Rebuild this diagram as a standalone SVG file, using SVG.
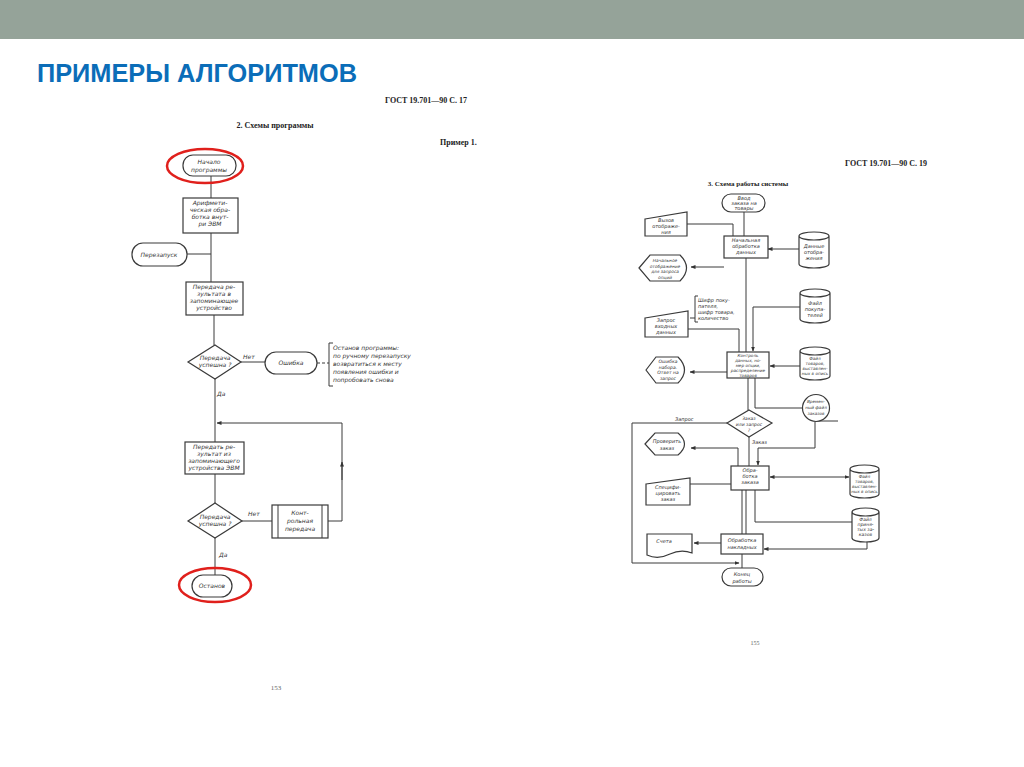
<svg xmlns="http://www.w3.org/2000/svg" width="1024" height="767" viewBox="0 0 1024 767">
<style>
.s{fill:none;stroke:#3a3a3a;stroke-width:1}
.b{fill:#fff;stroke:#3a3a3a;stroke-width:1.2}
.t{font-family:"DejaVu Sans",sans-serif;font-style:italic;font-size:6px;fill:#333;text-anchor:middle}
.tl{font-family:"DejaVu Sans",sans-serif;font-style:italic;font-size:6px;fill:#333}
.h{font-family:"Liberation Serif",serif;font-weight:bold;font-size:8px;fill:#222}
.pg{font-family:"Liberation Serif",serif;font-size:7px;fill:#666;text-anchor:middle}
.red{fill:none;stroke:#e0201c;stroke-width:2.5}
</style>
<defs>
<marker id="ar" viewBox="0 0 10 10" refX="9" refY="5" markerWidth="5" markerHeight="5" orient="auto-start-reverse"><path d="M0,1 L10,5 L0,9 Z" fill="#333"/></marker>
</defs>
<rect x="0" y="0" width="1024" height="39" fill="#95a399"/>
<text x="37" y="82" font-family="Liberation Sans,Arial,sans-serif" font-weight="bold" font-size="26" fill="#0b6db8" textLength="320" lengthAdjust="spacingAndGlyphs">ПРИМЕРЫ АЛГОРИТМОВ</text>

<!-- left page headers -->
<text class="h" x="385" y="103">ГОСТ 19.701—90 С. 17</text>
<text class="h" x="275" y="128" text-anchor="middle">2. Схемы программы</text>
<text class="h" x="440" y="145">Пример 1.</text>
<text class="pg" x="276" y="690">153</text>

<!-- right page headers -->
<text class="h" x="845" y="166">ГОСТ 19.701—90 С. 19</text>
<text class="h" x="748" y="186" text-anchor="middle" style="font-size:7px">3. Схема работы системы</text>
<text class="pg" x="755" y="645" style="font-size:6px">155</text>

<g id="connectors">
<!-- left -->
<path class="s" d="M211,176 V198"/>
<path class="s" d="M211,233 V282"/>
<path class="s" d="M187,254 H211"/>
<path class="s" d="M214,315 V345"/>
<path class="s" d="M241,362 H265"/>
<path class="s" d="M317,363 H329" stroke-dasharray="3,2"/>
<path class="s" d="M215,379 V442"/>
<path class="s" d="M342,423 H217" marker-end="url(#ar)"/>
<path class="s" d="M328,521 H342 V423"/>
<path class="s" d="M342,480 V462" marker-end="url(#ar)"/>
<path class="s" d="M215,474 V503"/>
<path class="s" d="M242,521 H272"/>
<path class="s" d="M215,538 V575"/>
<!-- right -->
<path class="s" d="M744,212 V236"/>
<path class="s" d="M687,224 H733 V236"/>
<path class="s" d="M799,249 H768" marker-end="url(#ar)"/>
<path class="s" d="M724,267 H691" marker-end="url(#ar)"/>
<path class="s" d="M746,258 V352"/>
<path class="s" d="M688,329 H739 V352"/>
<path class="s" d="M690,318 H695"/>
<path class="s" d="M800,307 H753 V351" marker-end="url(#ar)"/>
<path class="s" d="M800,366 H770" marker-end="url(#ar)"/>
<path class="s" d="M727,372 H690" marker-end="url(#ar)"/>
<path class="s" d="M748,378 V410"/>
<path class="s" d="M755,378 V408 H803"/>
<path class="s" d="M727,423 H632 V563 H739" marker-end="url(#ar)"/>
<path class="s" d="M749,437 V466"/>
<path class="s" d="M815,422 V448 H758 V465" marker-end="url(#ar)"/>
<path class="s" d="M816,421 H838"/>
<path class="s" d="M738,466 V448 H691" marker-end="url(#ar)"/>
<path class="s" d="M690,484 H731"/>
<path class="s" d="M770,477 H849" marker-start="url(#ar)" marker-end="url(#ar)"/>
<path class="s" d="M755,490 V522 H852"/>
<path class="s" d="M742,490 V534"/>
<path class="s" d="M746,490 V534"/>
<path class="s" d="M721,543 H694" marker-end="url(#ar)"/>
<path class="s" d="M867,542 V549 H764" marker-end="url(#ar)"/>
<path class="s" d="M742,554 V568"/>
</g>

<!-- LEFT CHART NODES -->
<g id="start">
<rect class="b" x="183" y="155" width="53" height="21" rx="10"/>
<text class="t" x="209" y="164">Начало</text>
<text class="t" x="209" y="172">программы</text>
<ellipse class="red" cx="205" cy="166" rx="38" ry="17"/>
</g>
<g id="arith">
<rect class="b" x="183" y="198" width="55" height="35"/>
<text class="t" x="210" y="205">Арифмети-</text>
<text class="t" x="210" y="212">ческая обра-</text>
<text class="t" x="210" y="219">ботка внут-</text>
<text class="t" x="210" y="226">ри ЭВМ</text>
</g>
<g id="restart">
<rect class="b" x="132" y="243" width="55" height="23" rx="11"/>
<text class="t" x="159" y="257">Перезапуск</text>
</g>
<g id="transfer1">
<rect class="b" x="186" y="282" width="57" height="33"/>
<text class="t" x="214" y="289">Передача ре-</text>
<text class="t" x="214" y="296">зультата в</text>
<text class="t" x="214" y="303">запоминающее</text>
<text class="t" x="214" y="310">устройство</text>
</g>
<g id="dec1">
<polygon class="b" points="215,345 241,362 215,379 188,362"/>
<text class="t" x="215" y="360">Передача</text>
<text class="t" x="215" y="367">успешна ?</text>
<text class="tl" x="243" y="359">Нет</text>
<text class="tl" x="217" y="396">Да</text>
</g>
<g id="error">
<rect class="b" x="265" y="352" width="52" height="22" rx="11"/>
<text class="t" x="291" y="365">Ошибка</text>
</g>
<g id="note1">
<path class="s" d="M333,343 H329 V386 H333"/>
<text class="tl" x="333" y="350">Останов программы:</text>
<text class="tl" x="333" y="358">по ручному перезапуску</text>
<text class="tl" x="333" y="366">возвратиться к месту</text>
<text class="tl" x="333" y="374">появления ошибки и</text>
<text class="tl" x="333" y="382">попробовать снова</text>
</g>
<g id="transfer2">
<rect class="b" x="185" y="442" width="59" height="32"/>
<text class="t" x="214" y="449">Передать ре-</text>
<text class="t" x="214" y="456">зультат из</text>
<text class="t" x="214" y="463">запоминающего</text>
<text class="t" x="214" y="470">устройства ЭВМ</text>
</g>
<g id="dec2">
<polygon class="b" points="215,503 242,521 215,538 188,521"/>
<text class="t" x="215" y="519">Передача</text>
<text class="t" x="215" y="526">успешна ?</text>
<text class="tl" x="248" y="516">Нет</text>
<text class="tl" x="219" y="557">Да</text>
</g>
<g id="control">
<rect class="b" x="272" y="505" width="56" height="33"/>
<path class="s" d="M278,505 V538 M322,505 V538"/>
<text class="t" x="300" y="515">Конт-</text>
<text class="t" x="300" y="523">рольная</text>
<text class="t" x="300" y="531">передача</text>
</g>
<g id="stop">
<rect class="b" x="192" y="575" width="40" height="22" rx="11"/>
<text class="t" x="212" y="588">Останов</text>
<ellipse class="red" cx="215" cy="585" rx="36" ry="17"/>
</g>

<!-- RIGHT CHART NODES -->
<g id="r-start">
<rect class="b" x="722" y="194" width="43" height="18" rx="9"/>
<text class="t" x="744" y="200" style="font-size:5px">Ввод</text>
<text class="t" x="744" y="205" style="font-size:5px">заказа на</text>
<text class="t" x="744" y="210" style="font-size:5px">товары</text>
</g>
<g id="r-call">
<polygon class="b" points="645,219 687,212 687,236 645,236"/>
<text class="t" x="666" y="222" style="font-size:5px">Вызов</text>
<text class="t" x="666" y="228" style="font-size:5px">отображе-</text>
<text class="t" x="666" y="234" style="font-size:5px">ния</text>
</g>
<g id="r-init">
<rect class="b" x="724" y="236" width="44" height="22"/>
<text class="t" x="746" y="242" style="font-size:5px">Начальная</text>
<text class="t" x="746" y="248" style="font-size:5px">обработка</text>
<text class="t" x="746" y="254" style="font-size:5px">данных</text>
</g>
<g id="r-dispdata">
<path class="b" d="M799,236 V264 A15,4 0 0 0 829,264 V236 A15,4 0 0 0 799,236 A15,4 0 0 0 829,236"/>
<text class="t" x="814" y="248" style="font-size:5px">Данные</text>
<text class="t" x="814" y="254" style="font-size:5px">отобра-</text>
<text class="t" x="814" y="260" style="font-size:5px">жения</text>
</g>
<g id="r-initdisp">
<path class="b" d="M639,268 L650,255 L680,255 Q693,268 680,281 L650,281 Z"/>
<text class="t" x="665" y="262" style="font-size:4.3px">Начальное</text>
<text class="t" x="665" y="267.5" style="font-size:4.3px">отображение</text>
<text class="t" x="665" y="273" style="font-size:4.3px">для запроса</text>
<text class="t" x="665" y="278.5" style="font-size:4.3px">опций</text>
</g>
<g id="r-note">
<path class="s" d="M698,296 H695 V322 H698"/>
<text class="tl" x="698" y="302" style="font-size:5px">Шифр поку-</text>
<text class="tl" x="698" y="308" style="font-size:5px">пателя,</text>
<text class="tl" x="698" y="314" style="font-size:5px">шифр товара,</text>
<text class="tl" x="698" y="320" style="font-size:5px">количество</text>
</g>
<g id="r-input">
<polygon class="b" points="645,318 688,311 688,337 645,337"/>
<text class="t" x="666" y="322" style="font-size:5px">Запрос</text>
<text class="t" x="666" y="328" style="font-size:5px">входных</text>
<text class="t" x="666" y="334" style="font-size:5px">данных</text>
</g>
<g id="r-custfile">
<path class="b" d="M800,293 V319 A15,4 0 0 0 830,319 V293 A15,4 0 0 0 800,293 A15,4 0 0 0 830,293"/>
<text class="t" x="815" y="305" style="font-size:5px">Файл</text>
<text class="t" x="815" y="311" style="font-size:5px">покупа-</text>
<text class="t" x="815" y="317" style="font-size:5px">телей</text>
</g>
<g id="r-control">
<rect class="b" x="727" y="352" width="42" height="26"/>
<text class="t" x="748" y="357" style="font-size:4.2px">Контроль</text>
<text class="t" x="748" y="362" style="font-size:4.2px">данных, но-</text>
<text class="t" x="748" y="367" style="font-size:4.2px">мер опции,</text>
<text class="t" x="748" y="372" style="font-size:4.2px">распределение</text>
<text class="t" x="748" y="377" style="font-size:4.2px">товаров</text>
</g>
<g id="r-goodsfile1">
<path class="b" d="M800,351 V376 A15,4 0 0 0 830,376 V351 A15,4 0 0 0 800,351 A15,4 0 0 0 830,351"/>
<text class="t" x="815" y="360" style="font-size:4.2px">Файл</text>
<text class="t" x="815" y="365" style="font-size:4.2px">товаров,</text>
<text class="t" x="815" y="370" style="font-size:4.2px">выставлен-</text>
<text class="t" x="815" y="375" style="font-size:4.2px">ных в опись</text>
</g>
<g id="r-errdisp">
<path class="b" d="M646,370 L656,357 L678,357 Q691,370 678,383 L656,383 Z"/>
<text class="t" x="668" y="363" style="font-size:4.5px">Ошибка</text>
<text class="t" x="668" y="368.5" style="font-size:4.5px">набора.</text>
<text class="t" x="668" y="374" style="font-size:4.5px">Ответ на</text>
<text class="t" x="668" y="379.5" style="font-size:4.5px">запрос</text>
</g>
<g id="r-tempfile">
<circle class="b" cx="816" cy="408" r="13.5"/>
<text class="t" x="816" y="403" style="font-size:4.2px">Времен-</text>
<text class="t" x="816" y="409" style="font-size:4.2px">ный файл</text>
<text class="t" x="816" y="415" style="font-size:4.2px">заказов</text>
</g>
<g id="r-decision">
<polygon class="b" points="749,410 772,423 749,437 727,423"/>
<text class="t" x="749" y="420" style="font-size:4.5px">Заказ</text>
<text class="t" x="749" y="426" style="font-size:4.5px">или запрос</text>
<text class="t" x="749" y="432" style="font-size:4.5px">?</text>
<text class="tl" x="675" y="421" style="font-size:5px">Запрос</text>
<text class="tl" x="752" y="444" style="font-size:5px">Заказ</text>
</g>
<g id="r-check">
<path class="b" d="M645,444 L655,433 L678,433 Q691,444 678,455 L655,455 Z"/>
<text class="t" x="667" y="443" style="font-size:5px">Проверить</text>
<text class="t" x="667" y="450" style="font-size:5px">заказ</text>
</g>
<g id="r-order">
<rect class="b" x="731" y="466" width="38" height="24"/>
<text class="t" x="750" y="472" style="font-size:5px">Обра-</text>
<text class="t" x="750" y="478" style="font-size:5px">ботка</text>
<text class="t" x="750" y="484" style="font-size:5px">заказа</text>
</g>
<g id="r-spec">
<polygon class="b" points="646,484 690,478 690,505 646,505"/>
<text class="t" x="668" y="489" style="font-size:5px">Специфи-</text>
<text class="t" x="668" y="495" style="font-size:5px">цировать</text>
<text class="t" x="668" y="501" style="font-size:5px">заказ</text>
</g>
<g id="r-goodsfile2">
<path class="b" d="M850,469 V494 A14.5,4 0 0 0 879,494 V469 A14.5,4 0 0 0 850,469 A14.5,4 0 0 0 879,469"/>
<text class="t" x="864.5" y="478" style="font-size:4.2px">Файл</text>
<text class="t" x="864.5" y="483" style="font-size:4.2px">товаров,</text>
<text class="t" x="864.5" y="488" style="font-size:4.2px">выставлен-</text>
<text class="t" x="864.5" y="493" style="font-size:4.2px">ных в опись</text>
</g>
<g id="r-accfile">
<path class="b" d="M852,512 V538 A13.5,4 0 0 0 879,538 V512 A13.5,4 0 0 0 852,512 A13.5,4 0 0 0 879,512"/>
<text class="t" x="865.5" y="521" style="font-size:4.5px">Файл</text>
<text class="t" x="865.5" y="526" style="font-size:4.5px">приня-</text>
<text class="t" x="865.5" y="531" style="font-size:4.5px">тых за-</text>
<text class="t" x="865.5" y="536" style="font-size:4.5px">казов</text>
</g>
<g id="r-bills">
<path class="b" d="M647,534 H692 V553 Q681,549 670,554 Q658,560 647,555 Z"/>
<text class="t" x="664" y="543" style="font-size:5px">Счета</text>
</g>
<g id="r-invoice">
<rect class="b" x="721" y="534" width="42" height="20"/>
<text class="t" x="742" y="542" style="font-size:5px">Обработка</text>
<text class="t" x="742" y="549" style="font-size:5px">накладных</text>
</g>
<g id="r-end">
<rect class="b" x="722" y="568" width="41" height="18" rx="9"/>
<text class="t" x="742" y="576" style="font-size:5px">Конец</text>
<text class="t" x="742" y="583" style="font-size:5px">работы</text>
</g>
</svg>
